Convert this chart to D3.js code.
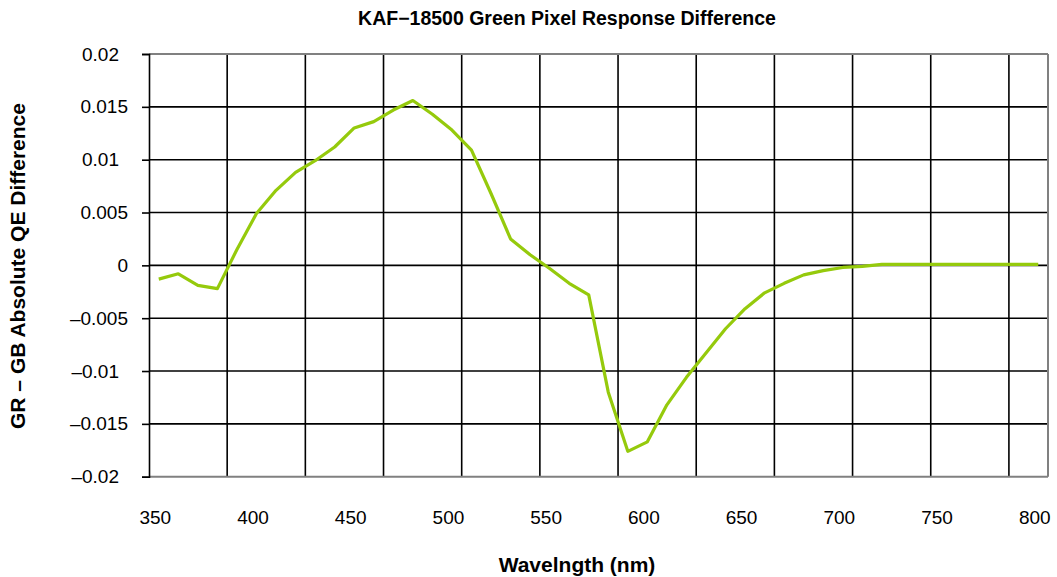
<!DOCTYPE html>
<html>
<head>
<meta charset="utf-8">
<script src="https://cdn.jsdelivr.net/npm/d3@7"></script>
<style>
  html, body { margin: 0; padding: 0; background: #fff; }
  svg { display: block; font-family: "Liberation Sans", Arial, Helvetica, sans-serif; }
</style>
</head>
<body>
<svg id="chart" width="1057" height="577"></svg>
<script>
// ---- data ----
const chartTitle = "KAF\u221218500 Green Pixel Response Difference";
const xTitle = "Wavelngth (nm)";
const yTitle = "GR \u2013 GB Absolute QE Difference";

const wavelengths = [350, 360, 370, 380, 390, 400, 410, 420, 430, 440,
                     450, 460, 470, 480, 490, 500, 510, 520, 530, 540,
                     550, 560, 570, 580, 590, 600, 610, 620, 630, 640,
                     650, 660, 670, 680, 690, 700, 710, 720, 730, 740,
                     750, 760, 770, 780, 790, 800];
const qeDiff = [-0.0013, -0.0008, -0.0019, -0.0022, 0.0015, 0.0049, 0.0071, 0.0088, 0.0099, 0.0112,
                0.0130, 0.0136, 0.0147, 0.0156, 0.0143, 0.0128, 0.0109, 0.0068, 0.0025, 0.0010,
                -0.0003, -0.0017, -0.0028, -0.0120, -0.0176, -0.0167, -0.0132, -0.0106, -0.0083, -0.0060,
                -0.0041, -0.0026, -0.0017, -0.0009, -0.0005, -0.0002, -0.0001, 0.0001, 0.0001, 0.0001,
                0.0001, 0.0001, 0.0001, 0.0001, 0.0001, 0.0001];
const xTickLabels = [350, 400, 450, 500, 550, 600, 650, 700, 750, 800];
const yTickValues = [0.02, 0.015, 0.01, 0.005, 0, -0.005, -0.01, -0.015, -0.02];
const yTickLabels = ["0.02", "0.015", "0.01", "0.005", "0", "\u20130.005", "\u20130.01", "\u20130.015", "\u20130.02"];

(function () {
// ---- layout ----
const pL = 149, pR = 1048, pT = 54, pB = 476.7;
const svg = d3.select("#chart");

const x = d3.scaleBand().domain(wavelengths).range([pL, pR]).padding(0);
const xc = d => x(d) + x.bandwidth() / 2;
const y = d3.scaleLinear().domain([-0.02, 0.02]).range([pB, pT]);

// horizontal grid
svg.append("g").selectAll("line")
  .data(yTickValues.filter(v => v !== 0.02 && v !== -0.02))
  .join("line")
  .attr("x1", pL).attr("x2", pR)
  .attr("y1", d => y(d)).attr("y2", d => y(d))
  .attr("stroke", "#000").attr("stroke-width", 1.6);

// vertical grid: every 4 categories
svg.append("g").selectAll("line")
  .data(wavelengths.filter((d, i) => i > 0 && i % 4 === 0))
  .join("line")
  .attr("x1", d => x(d)).attr("x2", d => x(d))
  .attr("y1", pT).attr("y2", pB)
  .attr("stroke", "#000").attr("stroke-width", 1.6);

// frame
svg.append("line").attr("x1", pL).attr("x2", pR).attr("y1", pT).attr("y2", pT)
  .attr("stroke", "#808080").attr("stroke-width", 2);
svg.append("line").attr("x1", pR).attr("x2", pR).attr("y1", pT).attr("y2", pB)
  .attr("stroke", "#808080").attr("stroke-width", 2);
svg.append("line").attr("x1", pL).attr("x2", pR).attr("y1", pB).attr("y2", pB)
  .attr("stroke", "#808080").attr("stroke-width", 2);

// y axis
const yAxis = d3.axisLeft(y).tickValues(yTickValues).tickSize(7).tickPadding(14)
  .tickFormat((d, i) => yTickLabels[i]);
const gy = svg.append("g").attr("transform", `translate(${pL},0)`).call(yAxis);
gy.select(".domain").attr("stroke", "#000").attr("stroke-width", 1.6);
gy.selectAll(".tick line").attr("stroke", "#000").attr("stroke-width", 1.6);
gy.selectAll(".tick text").attr("font-size", 19).attr("fill", "#000")
  .attr("font-family", "'Liberation Sans', Arial, sans-serif")
  .attr("dx", function () {
    const t = d3.select(this).text();
    const dec = t.split(".")[1];
    return dec && dec.length === 2 ? -9 : 0;
  });

// x labels
svg.append("g").selectAll("text")
  .data(xTickLabels)
  .join("text")
  .attr("x", d => xc(d) - 3.5)
  .attr("y", 524)
  .attr("text-anchor", "middle")
  .attr("font-size", 19)
  .attr("fill", "#000")
  .text(d => d);

// data line
const line = d3.line()
  .x((d, i) => xc(wavelengths[i]))
  .y(d => y(d));
svg.append("path")
  .datum(qeDiff)
  .attr("d", line)
  .attr("fill", "none")
  .attr("stroke", "#95CA0C")
  .attr("stroke-width", 3.2)
  .attr("stroke-linejoin", "round");

// titles
svg.append("text").attr("x", 567).attr("y", 25).attr("text-anchor", "middle")
  .attr("font-size", 19.5).attr("font-weight", "bold").text(chartTitle);
svg.append("text").attr("x", 577).attr("y", 572).attr("text-anchor", "middle")
  .attr("font-size", 21).attr("font-weight", "bold").text(xTitle);
svg.append("text").attr("transform", "translate(25,266) rotate(-90)").attr("text-anchor", "middle")
  .attr("font-size", 21).attr("font-weight", "bold").text(yTitle);
})();
</script>
</body>
</html>
